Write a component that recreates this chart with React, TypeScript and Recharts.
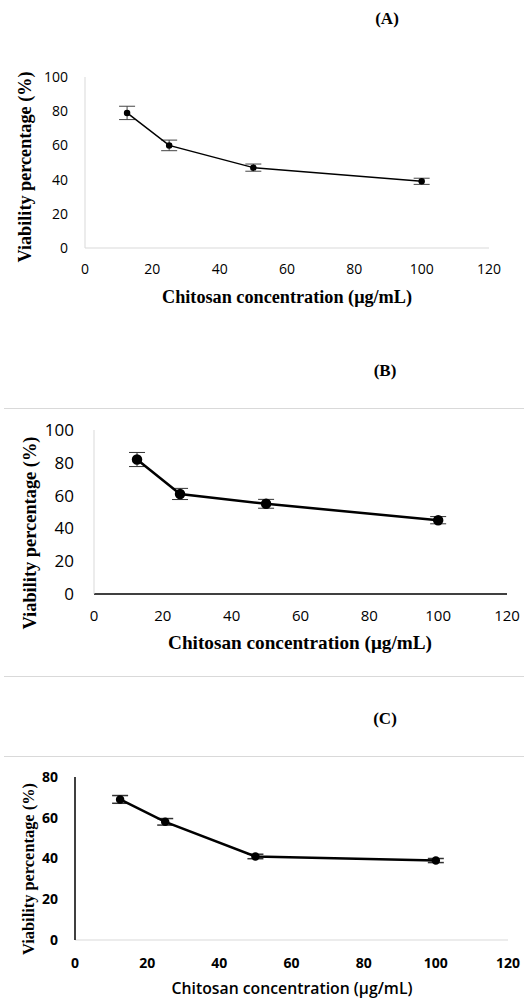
import React from 'react';
import { LineChart, Line, XAxis, YAxis, ErrorBar } from 'recharts';

// chitosan concentrations (µg/mL)
const concentrations = [12.5, 25, 50, 100];
const xTicks = [0, 20, 40, 60, 80, 100, 120];

// viability (%) and standard error for each panel
const viabilityA = [79, 60, 47, 39];
const errorA = [3.9, 3.1, 2.1, 1.8];
const viabilityB = [82, 61, 55, 45];
const errorB = [4.3, 3.4, 2.7, 2.2];
const viabilityC = [69, 58, 41, 39];
const errorC = [1.9, 1.6, 1.1, 1.0];

const yTicksAB = [0, 20, 40, 60, 80, 100];
const yTicksC = [0, 20, 40, 60, 80];

const xTitle = 'Chitosan concentration (μg/mL)';
const yTitle = 'Viability percentage (%)';

const toRows = (vals: number[], errs: number[]) =>
  concentrations.map((c, i) => ({ conc: c, value: vals[i], err: errs[i] }));

const SERIF = '"Liberation Serif", "Times New Roman", serif';
const SANS = '"Open Sans", Calibri, sans-serif';
const GRAY = '#d9d9d9';

const panel = (top: number, height: number): React.CSSProperties => ({
  position: 'absolute',
  left: 0,
  top,
  width: 524,
  height,
});

export default function App() {
  const rowsA = toRows(viabilityA, errorA);
  const rowsB = toRows(viabilityB, errorB);
  const rowsC = toRows(viabilityC, errorC);

  return (
    <div style={{ position: 'absolute', left: 0, top: 0, width: 524, height: 999, background: '#fff' }}>
      {/* (A) */}
      <div style={panel(0, 330)}>
        <LineChart width={524} height={330} data={rowsA} margin={{ top: 77, right: 35, bottom: 52, left: 25 }}>
          <XAxis
            dataKey="conc"
            type="number"
            domain={[0, 120]}
            ticks={xTicks}
            height={30}
            stroke={GRAY}
            tickLine={false}
            tickSize={0}
            tickMargin={16}
            tick={{ fill: '#000', fontSize: 14, fontFamily: SANS }}
          />
          <YAxis
            type="number"
            domain={[0, 100]}
            ticks={yTicksAB}
            width={60}
            stroke={GRAY}
            tickLine={false}
            tickSize={0}
            tickMargin={17}
            tick={{ fill: '#000', fontSize: 14, fontFamily: SANS }}
          />
          <Line
            dataKey="value"
            type="linear"
            stroke="#000"
            strokeWidth={1.5}
            dot={{ r: 2.5, fill: '#000', stroke: '#000' }}
            isAnimationActive={false}
          >
            <ErrorBar dataKey="err" direction="y" width={8} stroke="#444" strokeWidth={1} />
          </Line>
        </LineChart>
      </div>

      {/* (B) */}
      <div style={panel(330, 320)}>
        <LineChart width={524} height={320} data={rowsB} margin={{ top: 100, right: 17, bottom: 26, left: 34 }}>
          <XAxis
            dataKey="conc"
            type="number"
            domain={[0, 120]}
            ticks={xTicks}
            height={30}
            stroke="#000"
            strokeWidth={1.5}
            tickLine={false}
            tickSize={0}
            tickMargin={16}
            tick={{ fill: '#000', fontSize: 15, fontFamily: SANS }}
          />
          <YAxis
            type="number"
            domain={[0, 100]}
            ticks={yTicksAB}
            width={60}
            stroke={GRAY}
            tickLine={false}
            tickSize={0}
            tickMargin={20}
            tick={{ fill: '#000', fontSize: 17, fontFamily: SANS }}
          />
          <Line
            dataKey="value"
            type="linear"
            stroke="#000"
            strokeWidth={2.5}
            dot={{ r: 4, fill: '#000', stroke: '#000' }}
            isAnimationActive={false}
          >
            <ErrorBar dataKey="err" direction="y" width={8} stroke="#333" strokeWidth={1} />
          </Line>
        </LineChart>
      </div>

      {/* (C) */}
      <div style={panel(650, 349)}>
        <LineChart width={524} height={349} data={rowsC} margin={{ top: 127, right: 16, bottom: 29, left: 25 }}>
          <XAxis
            dataKey="conc"
            type="number"
            domain={[0, 120]}
            ticks={xTicks}
            height={30}
            stroke={GRAY}
            tickLine={false}
            tickSize={0}
            tickMargin={18}
            tick={{ fill: '#000', fontSize: 14, fontWeight: 700, fontFamily: SANS }}
          />
          <YAxis
            type="number"
            domain={[0, 80]}
            ticks={yTicksC}
            width={50}
            stroke="#000"
            strokeWidth={1.5}
            tickLine={false}
            tickSize={0}
            tickMargin={17}
            tick={{ fill: '#000', fontSize: 14, fontWeight: 700, fontFamily: SANS }}
          />
          <Line
            dataKey="value"
            type="linear"
            stroke="#000"
            strokeWidth={2.5}
            dot={{ r: 3, fill: '#000', stroke: '#000' }}
            isAnimationActive={false}
          >
            <ErrorBar dataKey="err" direction="y" width={8} stroke="#333" strokeWidth={1.5} />
          </Line>
        </LineChart>
      </div>

      {/* titles and separators */}
      <svg width={524} height={999} style={{ position: 'absolute', left: 0, top: 0, pointerEvents: 'none' }}>
        <line x1={4} x2={524} y1={408.5} y2={408.5} stroke={GRAY} />
        <line x1={4} x2={524} y1={676.5} y2={676.5} stroke={GRAY} />
        <line x1={4} x2={524} y1={756.5} y2={756.5} stroke={GRAY} />

        <g fontFamily={SERIF} fontWeight={700} fill="#000" textAnchor="middle" dominantBaseline="central">
          <text x={387} y={18} fontSize={17}>(A)</text>
          <text x={287} y={297} fontSize={18} textLength={250} lengthAdjust="spacingAndGlyphs">{xTitle}</text>
          <text x={25} y={167} fontSize={18} textLength={191} lengthAdjust="spacingAndGlyphs" transform="rotate(-90 25 167)">{yTitle}</text>

          <text x={385} y={370} fontSize={17}>(B)</text>
          <text x={300} y={642} fontSize={19} textLength={264} lengthAdjust="spacingAndGlyphs">{xTitle}</text>
          <text x={30} y={533} fontSize={18} textLength={193} lengthAdjust="spacingAndGlyphs" transform="rotate(-90 30 533)">{yTitle}</text>

          <text x={385} y={718} fontSize={17}>(C)</text>
          <text x={28} y={869} fontSize={16.5} textLength={172} lengthAdjust="spacingAndGlyphs" transform="rotate(-90 28 869)">{yTitle}</text>
        </g>
        <text
          x={292}
          y={988}
          fontSize={16}
          fontFamily={SANS}
          fontWeight={600}
          fill="#000"
          textAnchor="middle"
          dominantBaseline="central"
          textLength={241}
          lengthAdjust="spacingAndGlyphs"
        >
          {xTitle}
        </text>
      </svg>
    </div>
  );
}
